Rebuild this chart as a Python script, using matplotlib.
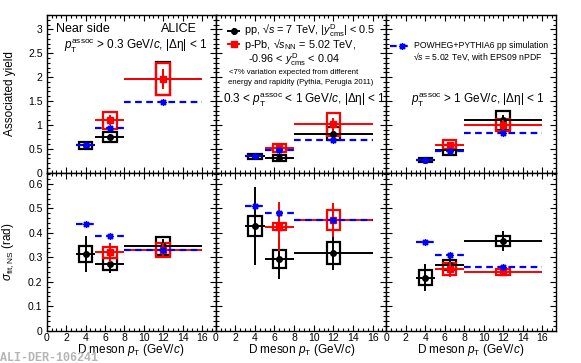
import matplotlib
matplotlib.use("Agg")
import matplotlib.pyplot as plt
from matplotlib.patches import Rectangle
from matplotlib.ticker import MultipleLocator, FuncFormatter

plt.rcParams['font.family'] = ['Liberation Sans', 'DejaVu Sans']
plt.rcParams['mathtext.fontset'] = 'custom'
plt.rcParams['mathtext.rm'] = 'Liberation Sans'
plt.rcParams['mathtext.it'] = 'Liberation Sans:italic'
plt.rcParams['mathtext.bf'] = 'Liberation Sans:bold'

W, H = 581, 363

# D meson pT bins
pp_pt = [4, 6.5, 12]
pp_xerr = [1, 1.5, 4]
ppb_pt = [6.5, 12]
ppb_xerr = [1.5, 4]
sim_pt = [4, 6.5, 12]
sim_xerr = [1, 1.5, 4]

# Associated yield, pT assoc > 0.3 / 0.3-1 / > 1 GeV/c
pp_yield = [[0.57, 0.75, 1.97], [0.34, 0.31, 0.82], [0.27, 0.47, 1.10]]
pp_yield_stat = [[0.06, 0.07, 0.18], [0.04, 0.04, 0.10], [0.03, 0.05, 0.10]]
pp_yield_sys = [[0.08, 0.11, 0.35], [0.06, 0.06, 0.13], [0.04, 0.11, 0.20]]
ppb_yield = [[1.10, 1.96], [0.52, 1.01], [0.59, 1.00]]
ppb_yield_stat = [[0.11, 0.20], [0.06, 0.13], [0.06, 0.10]]
ppb_yield_sys = [[0.18, 0.34], [0.08, 0.24], [0.09, 0.13]]
sim_yield = [[0.57, 0.93, 1.48], [0.34, 0.48, 0.68], [0.27, 0.46, 0.84]]

# Near-side width sigma_fit,NS (rad)
pp_sigma = [[0.314, 0.273, 0.345], [0.428, 0.293, 0.316], [0.217, 0.270, 0.367]]
pp_sigma_stat = [[0.073, 0.038, 0.030], [0.160, 0.082, 0.068], [0.055, 0.030, 0.042]]
pp_sigma_sys = [[0.032, 0.025, 0.037], [0.040, 0.035, 0.045], [0.030, 0.020, 0.020]]
ppb_sigma = [[0.320, 0.330], [0.425, 0.453], [0.251, 0.239]]
ppb_sigma_stat = [[0.040, 0.030], [0.100, 0.068], [0.030, 0.012]]
ppb_sigma_sys = [[0.022, 0.027], [0.014, 0.040], [0.025, 0.012]]
sim_sigma = [[0.436, 0.387, 0.330], [0.510, 0.480, 0.453], [0.361, 0.310, 0.259]]

fig = plt.figure(figsize=(W / 100, H / 100), dpi=100)

xedges = [46.7, 215.6, 386.4, 555.7]
yedges = [15, 172.7, 330.7]


def boxes(ax, xs, ys, sy, color, hw=0.7):
    for x, y, s in zip(xs, ys, sy):
        ax.add_patch(Rectangle((x - hw, y - s), 2 * hw, 2 * s, fill=False,
                               edgecolor=color, lw=1.6, zorder=2))


def draw(ax, y_pp, st_pp, sy_pp, y_pb, st_pb, sy_pb, y_sim):
    boxes(ax, pp_pt, y_pp, sy_pp, 'black')
    ax.errorbar(pp_pt, y_pp, xerr=pp_xerr, yerr=st_pp, fmt='o', color='black',
                ms=4, elinewidth=1.4, capsize=0, zorder=3)
    boxes(ax, ppb_pt, y_pb, sy_pb, 'red')
    ax.errorbar(ppb_pt, y_pb, xerr=ppb_xerr, yerr=st_pb, fmt='s', color='red',
                ms=5, elinewidth=1.4, capsize=0, zorder=4)
    ax.hlines(y_sim, [p - e for p, e in zip(sim_pt, sim_xerr)],
              [p + e for p, e in zip(sim_pt, sim_xerr)], colors='blue',
              linestyles=(0, (3, 2)), lw=1.6, zorder=5)
    ax.plot(sim_pt, y_sim, ls='none', marker=(8, 2, 0), color='blue', ms=5,
            mew=1.0, zorder=5)


fmt = FuncFormatter(lambda v, p: '%g' % round(v, 3))
axes = []
for row in range(2):
    for col in range(3):
        x0, x1 = xedges[col], xedges[col + 1]
        y0, y1 = yedges[row], yedges[row + 1]
        ax = fig.add_axes([x0 / W, 1 - y1 / H, (x1 - x0) / W, (y1 - y0) / H])
        ax.set_xlim(0, 17.4)
        if row == 0:
            ax.set_ylim(0, 3.3)
            ax.yaxis.set_major_locator(MultipleLocator(0.5))
            ax.yaxis.set_minor_locator(MultipleLocator(0.1))
            draw(ax, pp_yield[col], pp_yield_stat[col], pp_yield_sys[col],
                 ppb_yield[col], ppb_yield_stat[col], ppb_yield_sys[col], sim_yield[col])
        else:
            ax.set_ylim(0, 0.646)
            ax.yaxis.set_major_locator(MultipleLocator(0.1))
            ax.yaxis.set_minor_locator(MultipleLocator(0.02))
            draw(ax, pp_sigma[col], pp_sigma_stat[col], pp_sigma_sys[col],
                 ppb_sigma[col], ppb_sigma_stat[col], ppb_sigma_sys[col], sim_sigma[col])
        ax.xaxis.set_major_locator(MultipleLocator(2))
        ax.xaxis.set_minor_locator(MultipleLocator(0.5))
        ax.yaxis.set_major_formatter(fmt)
        ax.tick_params(which='both', direction='in', top=True, right=True,
                       labelsize=7.5)
        ax.tick_params(axis='y', pad=3)
        ax.tick_params(axis='x', pad=1.5)
        ax.tick_params(which='major', length=4, width=0.8)
        ax.tick_params(which='minor', length=2, width=0.8)
        ax.tick_params(axis='x', labelbottom=(row == 1))
        ax.tick_params(axis='y', labelleft=(col == 0))
        for sp in ax.spines.values():
            sp.set_linewidth(1.0)
        if row == 1:
            fig.text((x1 - 31) / W, 1 - 349.5 / H, r'D meson $p_{\rm T}$ (GeV/$c$)',
                     ha='right', va='center', fontsize=8.5)
        axes.append(ax)

axes[0].set_ylabel('Associated yield', fontsize=8.5)
axes[3].set_ylabel(r'$\sigma_{\rm fit,NS}$ (rad)', fontsize=8.5)
axes[0].yaxis.set_label_coords(-0.18, 0.5)
axes[3].yaxis.set_label_coords(-0.18, 0.5)


def ftext(px, py, s, **kw):
    fig.text(px / W, 1 - py / H, s, va='center', **kw)


ftext(56, 28.5, 'Near side', fontsize=9)
ftext(197, 28.5, 'ALICE', fontsize=9, ha='right')
ftext(64, 46, r'$p_{\rm T}^{\rm assoc}$ > 0.3 GeV/$c$, |Δη| < 1', fontsize=8.5)

ftext(244, 31, r'pp, √$s$ = 7 TeV, |$y^{\rm D}_{\rm cms}$| < 0.5', fontsize=7.8)
ftext(244, 44, r'p-Pb, √$s_{\rm NN}$ = 5.02 TeV,', fontsize=7.8)
ftext(248, 60, r'-0.96 < $y^{\rm D}_{\rm cms}$ < 0.04', fontsize=7.8)
ftext(229, 72.5, '<7% variation expected from different', fontsize=5.6)
ftext(227.5, 83, 'energy and rapidity (Pythia, Perugia 2011)', fontsize=5.6)
ftext(223, 100, r'0.3 < $p_{\rm T}^{\rm assoc}$ < 1 GeV/$c$, |Δη| < 1', fontsize=8.5)

ftext(414, 45.5, 'POWHEG+PYTHIA6 pp simulation', fontsize=6.2)
ftext(413, 56.5, r'√$s$ = 5.02 TeV, with EPS09 nPDF', fontsize=6.2)
ftext(411, 100, r'$p_{\rm T}^{\rm assoc}$ > 1 GeV/$c$, |Δη| < 1', fontsize=8.5)

ftext(0, 358, 'ALI-DER-106241', fontsize=8.5, family='Liberation Mono',
      weight='bold', color='#b5b5b5')

# legend glyphs
ov = fig.add_axes([0, 0, 1, 1])
ov.set_xlim(0, W)
ov.set_ylim(H, 0)
ov.axis('off')
ov.errorbar([233.5], [31], xerr=[6.5], yerr=[3.5], fmt='o', color='black', ms=4,
            elinewidth=1.4, capsize=0)
ov.errorbar([233.5], [44], xerr=[6.5], yerr=[3.5], fmt='s', color='red', ms=5,
            elinewidth=1.4, capsize=0)
ov.hlines([45.5], [390], [412], colors='blue', linestyles=(0, (3, 2)), lw=1.6)
ov.plot([401.5], [45.5], ls='none', marker=(8, 2, 0), color='blue', ms=5, mew=1.0)

fig.savefig('out.png', dpi=100)
